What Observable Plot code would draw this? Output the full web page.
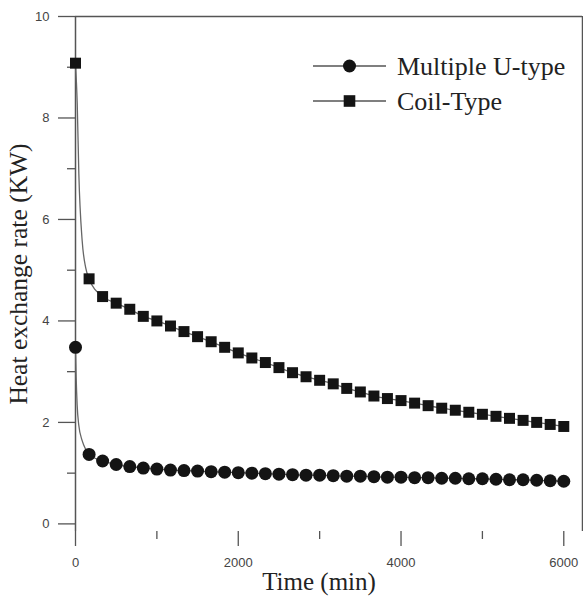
<!DOCTYPE html>
<html><head><meta charset="utf-8">
<script src="https://cdn.jsdelivr.net/npm/d3@7"></script>
<script src="https://cdn.jsdelivr.net/npm/@observablehq/plot@0.6"></script>
<style>body{margin:0;background:#fff} svg{display:block}</style>
</head><body><div id="chart"></div>
<script>
// ---- data ----
const timeMin = [0,167,333,500,667,833,1000,1167,1333,1500,1667,1833,2000,2167,2333,2500,2667,2833,3000,3167,3333,3500,3667,3833,4000,4167,4333,4500,4667,4833,5000,5167,5333,5500,5667,5833,6000];
const coilKW = [9.08,4.83,4.48,4.35,4.23,4.09,4.00,3.90,3.79,3.69,3.59,3.48,3.37,3.27,3.18,3.08,2.98,2.90,2.83,2.76,2.67,2.60,2.52,2.47,2.43,2.38,2.33,2.28,2.24,2.20,2.16,2.12,2.08,2.04,2.00,1.96,1.92];
const multiUKW = [3.48,1.37,1.24,1.17,1.13,1.10,1.08,1.06,1.05,1.04,1.03,1.02,1.01,1.00,0.99,0.98,0.97,0.96,0.96,0.95,0.94,0.94,0.93,0.92,0.92,0.91,0.91,0.90,0.90,0.89,0.89,0.88,0.87,0.87,0.86,0.85,0.84];
// early part of the fitted curves
const coilCurveT = [0,10,21,41,82,125];
const coilCurveKW = [9.08,8.75,8.3,6.9,5.58,5.05];
const multiUCurveT = [0,8,20,40,82,125];
const multiUCurveKW = [3.48,2.9,2.35,1.95,1.64,1.47];
const seriesNames = ["Multiple U-type","Coil-Type"];
const yTicksMajor = [0,2,4,6,8,10];
const yTicksMinor = [1,3,5,7,9];
const xTicksMajor = [0,2000,4000,6000];
const xTicksMinor = [1000,3000,5000];
const xTitle = "Time (min)";
const yTitle = "Heat exchange rate (KW)";

const rows = (ts, vs) => ts.map((t, i) => ({t, v: vs[i]}));
const coilPts = rows(timeMin, coilKW);
const uPts = rows(timeMin, multiUKW);
const coilLine = rows(coilCurveT, coilCurveKW).concat(coilPts.slice(1)).sort((a,b)=>a.t-b.t);
const uLine = rows(multiUCurveT, multiUCurveKW).concat(uPts.slice(1)).sort((a,b)=>a.t-b.t);

const X0 = 0, X1 = 6230, Y0 = -0.15, Y1 = 10;
const axisCol = "#555";
const tickFont = "'Liberation Sans', Arial, sans-serif";
const serif = "'Liberation Serif', 'Times New Roman', serif";

const svg = Plot.plot({
  width: 583, height: 597,
  marginLeft: 75, marginRight: 1, marginTop: 16, marginBottom: 66,
  x: {domain: [X0, X1]},
  y: {domain: [Y0, Y1]},
  style: {background: "white", overflow: "visible"},
  marks: [
    Plot.axisY(yTicksMajor, {anchor: "left", tickSize: 17, tickPadding: 9, tickFormat: d => String(d), fontSize: 13, fontFamily: tickFont, fill: "#444", stroke: axisCol, strokeWidth: 1.3, label: null}),
    Plot.axisY(yTicksMinor, {anchor: "left", tickSize: 8, tickFormat: () => "", stroke: axisCol, strokeWidth: 1.3, label: null}),
    Plot.axisX(xTicksMajor, {anchor: "bottom", tickSize: 15, tickPadding: 11, tickFormat: d => String(d), fontSize: 13, fontFamily: tickFont, fill: "#444", stroke: axisCol, strokeWidth: 1.3, label: null}),
    Plot.axisX(xTicksMinor, {anchor: "bottom", tickSize: 8, tickFormat: () => "", stroke: axisCol, strokeWidth: 1.3, label: null}),
    Plot.ruleX([X0], {y1: Y0, y2: Y1, stroke: axisCol, strokeWidth: 1.5}),
    Plot.ruleX([X1], {y1: Y0, y2: Y1, stroke: axisCol, strokeWidth: 1.5}),
    Plot.ruleY([Y1], {x1: X0, x2: X1, stroke: axisCol, strokeWidth: 1.5}),
    Plot.line(coilLine, {x: "t", y: "v", curve: "monotone-x", stroke: "#666", strokeWidth: 1.3}),
    Plot.line(uLine, {x: "t", y: "v", curve: "monotone-x", stroke: "#666", strokeWidth: 1.3}),
    Plot.dot(coilPts, {x: "t", y: "v", symbol: "square", r: 6.2, fill: "#141414", stroke: "none"}),
    Plot.dot(uPts, {x: "t", y: "v", symbol: "circle", r: 6.5, fill: "#141414", stroke: "none"}),
    Plot.text([yTitle], {text: d => d, frameAnchor: "left", dx: -57, rotate: -90, textAnchor: "middle", lineAnchor: "middle", fontSize: 25.5, fontFamily: serif, fill: "#222"}),
    Plot.text([xTitle], {text: d => d, frameAnchor: "bottom", dx: -10, dy: 50, textAnchor: "middle", lineAnchor: "middle", fontSize: 25, fontFamily: serif, fill: "#222"})
  ]
});

// legend (inside the plot, top right)
const lg = d3.select(svg).append("g").attr("font-family", serif).attr("font-size", 26).attr("fill", "#222").attr("text-anchor", "start");
const legendRows = [{name: seriesNames[0], sym: "circle", y: 66}, {name: seriesNames[1], sym: "square", y: 101}];
legendRows.forEach(r => {
  lg.append("line").attr("x1", 313).attr("x2", 386).attr("y1", r.y).attr("y2", r.y).attr("stroke", "#555").attr("stroke-width", 1.3);
  if (r.sym === "circle") lg.append("circle").attr("cx", 349.5).attr("cy", r.y).attr("r", 6.5).attr("fill", "#141414");
  else lg.append("rect").attr("x", 349.5 - 5.8).attr("y", r.y - 5.8).attr("width", 11.6).attr("height", 11.6).attr("fill", "#141414");
  lg.append("text").attr("x", 397).attr("y", r.y).attr("dy", "0.35em").attr("text-anchor", "start").text(r.name);
});

document.getElementById("chart").appendChild(svg);
</script>
</body></html>
